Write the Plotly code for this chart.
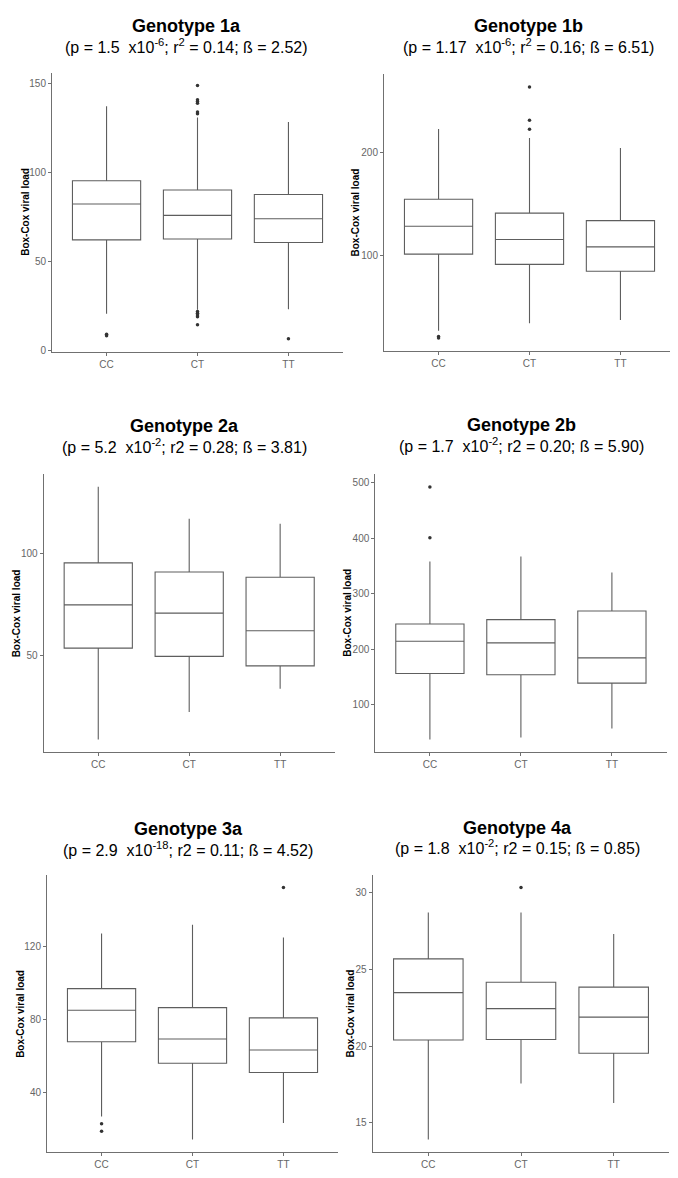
import plotly.graph_objects as go

W, H = 678, 1178

genotypes = ["Genotype 1a", "Genotype 1b", "Genotype 2a", "Genotype 2b", "Genotype 3a", "Genotype 4a"]
subtitles = [
    "(p = 1.5\u00a0 x10<sup>-6</sup>; r<sup>2</sup> = 0.14; ß = 2.52)",
    "(p = 1.17\u00a0 x10<sup>-6</sup>; r<sup>2</sup> = 0.16; ß = 6.51)",
    "(p = 5.2\u00a0 x10<sup>-2</sup>; r2 = 0.28; ß = 3.81)",
    "(p = 1.7\u00a0 x10<sup>-2</sup>; r2 = 0.20; ß = 5.90)",
    "(p = 2.9\u00a0 x10<sup>-18</sup>; r2 = 0.11; ß = 4.52)",
    "(p = 1.8\u00a0 x10<sup>-2</sup>; r2 = 0.15; ß = 0.85)",
]
categories = ["CC", "CT", "TT"]
y_title = "Box-Cox viral load"

# box statistics per genotype: [CC, CT, TT]
q1_1a = [62.2, 62.7, 60.7]
med_1a = [82.4, 76.0, 74.1]
q3_1a = [95.4, 90.2, 87.7]
lo_1a = [20.7, 23.0, 23.2]
hi_1a = [137.3, 131.0, 128.5]
out_x_1a = ["CC", "CC", "CT", "CT", "CT", "CT", "CT", "CT", "CT", "CT", "CT", "CT", "CT", "TT"]
out_y_1a = [8.3, 9.2, 149.0, 141.0, 140.0, 139.0, 134.0, 133.0, 22.0, 21.0, 20.0, 19.0, 14.5, 6.6]
ticks_1a = [0, 50, 100, 150]

q1_1b = [101.3, 91.3, 84.5]
med_1b = [128.4, 115.5, 108.3]
q3_1b = [154.8, 141.2, 133.9]
lo_1b = [26.5, 33.8, 37.0]
hi_1b = [223.2, 214.5, 204.8]
out_x_1b = ["CC", "CC", "CT", "CT", "CT"]
out_y_1b = [21.0, 19.5, 264.2, 231.7, 222.9]
ticks_1b = [100, 200]

q1_2a = [53.4, 49.3, 44.6]
med_2a = [74.8, 70.7, 62.0]
q3_2a = [95.6, 91.1, 88.5]
lo_2a = [8.2, 21.8, 33.3]
hi_2a = [133.3, 117.4, 115.0]
out_x_2a = []
out_y_2a = []
ticks_2a = [50, 100]

q1_2b = [155.8, 153.5, 138.4]
med_2b = [213.9, 211.0, 184.0]
q3_2b = [245.2, 253.0, 268.6]
lo_2b = [36.5, 40.0, 56.3]
hi_2b = [357.9, 366.9, 338.0]
out_x_2b = ["CC", "CC"]
out_y_2b = [492.8, 401.0]
ticks_2b = [100, 200, 300, 400, 500]

q1_3a = [68.0, 56.2, 51.1]
med_3a = [85.3, 69.5, 63.5]
q3_3a = [97.1, 86.7, 81.1]
lo_3a = [27.0, 14.4, 23.5]
hi_3a = [127.3, 132.2, 125.2]
out_x_3a = ["CC", "CC", "TT"]
out_y_3a = [23.1, 18.9, 152.5]
ticks_3a = [40, 80, 120]

q1_4a = [20.40, 20.43, 19.54]
med_4a = [23.48, 22.44, 21.89]
q3_4a = [25.68, 24.16, 23.84]
lo_4a = [13.92, 17.57, 16.30]
hi_4a = [28.70, 28.70, 27.30]
out_x_4a = ["CT"]
out_y_4a = [30.32]
ticks_4a = [15, 20, 25, 30]

panels = [
    (q1_1a, med_1a, q3_1a, lo_1a, hi_1a, out_x_1a, out_y_1a, ticks_1a),
    (q1_1b, med_1b, q3_1b, lo_1b, hi_1b, out_x_1b, out_y_1b, ticks_1b),
    (q1_2a, med_2a, q3_2a, lo_2a, hi_2a, out_x_2a, out_y_2a, ticks_2a),
    (q1_2b, med_2b, q3_2b, lo_2b, hi_2b, out_x_2b, out_y_2b, ticks_2b),
    (q1_3a, med_3a, q3_3a, lo_3a, hi_3a, out_x_3a, out_y_3a, ticks_3a),
    (q1_4a, med_4a, q3_4a, lo_4a, hi_4a, out_x_4a, out_y_4a, ticks_4a),
]

# layout geometry in pixels: (x0, x1, y0, y1)
boxes_px = [
    (44, 335, 65, 345),
    (376, 667, 66.7, 344),
    (35.7, 326.7, 468, 747.3),
    (367.3, 658.5, 468.3, 747.3),
    (39, 330, 870.7, 1149),
    (364.7, 661.3, 870.7, 1149),
]
title_px = [(178, 18), (520, 18), (176, 420), (513, 419), (180, 825), (510, 823)]
ytitle_x_px = [16.7, 347, 8.3, 339.5, 12.3, 343]

BOX_COLOR = "#5e5e5e"
AXIS_COLOR = "#707070"
FONT = "Liberation Sans, Arial, sans-serif"
TICK_FONT = dict(family=FONT, size=10, color="#666666")

fig = go.Figure()
layout = dict(
    width=W, height=H, margin=dict(l=0, r=0, t=0, b=0),
    paper_bgcolor="white", plot_bgcolor="white", showlegend=False,
    annotations=[],
)


def yr(lo, hi, oy):
    vals = lo + hi + list(oy)
    mn, mx = min(vals), max(vals)
    pad = (mx - mn) * 0.05
    return [mn - pad, mx + pad]


for i, (q1, med, q3, lo, hi, ox, oy, tv) in enumerate(panels):
    n = i + 1
    xa = "x" if n == 1 else f"x{n}"
    ya = "y" if n == 1 else f"y{n}"
    fig.add_trace(go.Box(
        x=categories, q1=q1, median=med, q3=q3, lowerfence=lo, upperfence=hi,
        width=0.75, whiskerwidth=0, boxpoints=False,
        line=dict(color=BOX_COLOR, width=1.1), fillcolor="white",
        xaxis=xa, yaxis=ya, hoverinfo="skip",
    ))
    if ox:
        fig.add_trace(go.Scatter(
            x=ox, y=oy, mode="markers",
            marker=dict(color="#333333", size=3.5),
            xaxis=xa, yaxis=ya, hoverinfo="skip",
        ))
    x0, x1, y0, y1 = boxes_px[i]
    layout["xaxis" if n == 1 else f"xaxis{n}"] = dict(
        domain=[x0 / W, x1 / W], anchor=ya, type="category",
        categoryorder="array", categoryarray=categories,
        range=[-0.6, 2.6], showline=True, linecolor=AXIS_COLOR, linewidth=1,
        ticks="outside", ticklen=3, tickcolor=AXIS_COLOR, tickfont=TICK_FONT,
        showgrid=False, zeroline=False, fixedrange=True,
    )
    layout["yaxis" if n == 1 else f"yaxis{n}"] = dict(
        domain=[1 - y1 / H, 1 - y0 / H], anchor=xa,
        range=yr(lo, hi, oy), tickvals=tv,
        showline=True, linecolor=AXIS_COLOR, linewidth=1,
        ticks="outside", ticklen=3, tickcolor=AXIS_COLOR, tickfont=TICK_FONT,
        showgrid=False, zeroline=False, fixedrange=True,
    )
    tx, ty = title_px[i]
    layout["annotations"].append(dict(
        text=f"<b>{genotypes[i]}</b>", x=tx / W, y=1 - ty / H, xref="paper", yref="paper",
        showarrow=False, xanchor="center", yanchor="middle",
        font=dict(family=FONT, size=18, color="black"),
    ))
    layout["annotations"].append(dict(
        text=subtitles[i], x=tx / W, y=1 - (ty + 20) / H, xref="paper", yref="paper",
        showarrow=False, xanchor="center", yanchor="middle",
        font=dict(family=FONT, size=16, color="black"),
    ))
    layout["annotations"].append(dict(
        text=f"<b>{y_title}</b>", x=ytitle_x_px[i] / W, y=1 - ((y0 + y1) / 2) / H,
        xref="paper", yref="paper", showarrow=False, textangle=-90,
        xanchor="center", yanchor="middle",
        font=dict(family=FONT, size=10, color="black"),
    ))

fig.update_layout(**layout)
fig.write_html("out.html")
